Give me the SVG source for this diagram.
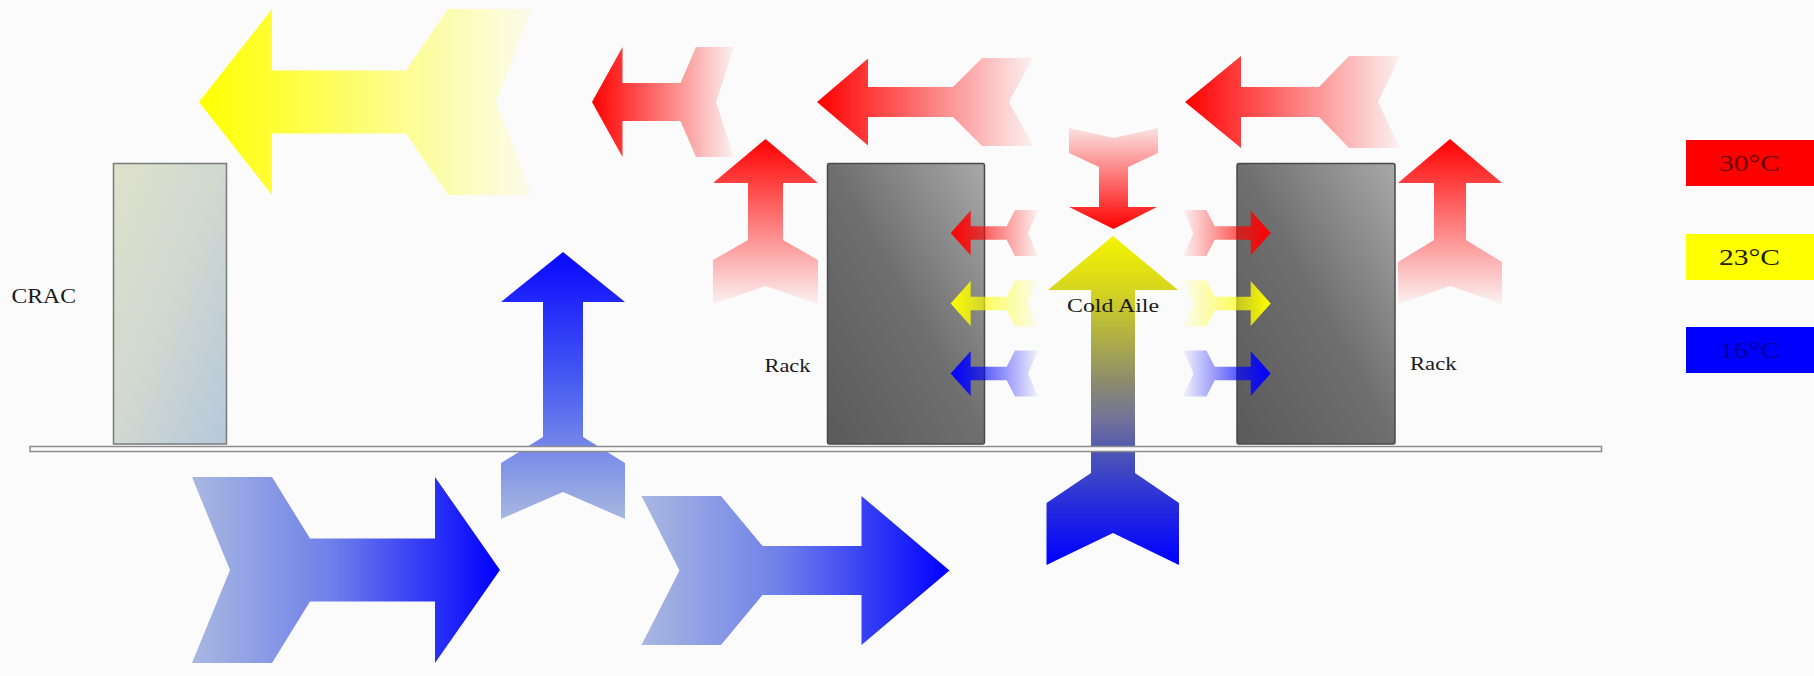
<svg xmlns="http://www.w3.org/2000/svg" width="1814" height="676" viewBox="0 0 1814 676">
<style>
.lbl{font-family:"Liberation Serif","Times New Roman",serif;fill:#1a1a1a}
.leg{font-family:"Liberation Serif","Times New Roman",serif;font-size:23.5px}
.rack{stroke:#4a4a4a;stroke-width:1.5}
</style>
<defs>
<linearGradient id="redL" x1="0" y1="0" x2="1" y2="0"><stop offset="0" stop-color="#ff0000"/><stop offset="1" stop-color="#ff0000" stop-opacity="0.04"/></linearGradient>
<linearGradient id="redR" x1="1" y1="0" x2="0" y2="0"><stop offset="0" stop-color="#ff0000"/><stop offset="1" stop-color="#ff0000" stop-opacity="0.04"/></linearGradient>
<linearGradient id="redU" x1="0" y1="0" x2="0" y2="1"><stop offset="0" stop-color="#ff0000"/><stop offset="1" stop-color="#ff0000" stop-opacity="0.04"/></linearGradient>
<linearGradient id="redD" x1="0" y1="1" x2="0" y2="0"><stop offset="0" stop-color="#ff0000"/><stop offset="1" stop-color="#ff0000" stop-opacity="0.1"/></linearGradient>
<linearGradient id="yelL" x1="0" y1="0" x2="1" y2="0"><stop offset="0" stop-color="#ffff00"/><stop offset="1" stop-color="#ffff00" stop-opacity="0.06"/></linearGradient>
<linearGradient id="yelR" x1="1" y1="0" x2="0" y2="0"><stop offset="0" stop-color="#ffff00"/><stop offset="1" stop-color="#ffff00" stop-opacity="0.06"/></linearGradient>
<linearGradient id="bluL" x1="0" y1="0" x2="1" y2="0"><stop offset="0" stop-color="#0000ff"/><stop offset="1" stop-color="#0000ff" stop-opacity="0.04"/></linearGradient>
<linearGradient id="bluR" x1="1" y1="0" x2="0" y2="0"><stop offset="0" stop-color="#0000ff"/><stop offset="1" stop-color="#0000ff" stop-opacity="0.04"/></linearGradient>
<linearGradient id="bigR" x1="0" y1="0" x2="1" y2="0"><stop offset="0" stop-color="#a9b8e0"/><stop offset="0.45" stop-color="#6f80ea"/><stop offset="1" stop-color="#0000ff"/></linearGradient>
<linearGradient id="bigU" x1="0" y1="0" x2="0" y2="1"><stop offset="0" stop-color="#0808ff"/><stop offset="0.5" stop-color="#4a5ef0"/><stop offset="1" stop-color="#a8b8e0"/></linearGradient>
<linearGradient id="cold" x1="0" y1="0" x2="0" y2="1">
<stop offset="0" stop-color="#f4f400"/><stop offset="0.16" stop-color="#d6d61e"/><stop offset="0.29" stop-color="#b4b440"/>
<stop offset="0.44" stop-color="#8c8c6c"/><stop offset="0.56" stop-color="#72729a"/><stop offset="0.65" stop-color="#5058b2"/>
<stop offset="0.8" stop-color="#2a30da"/><stop offset="1" stop-color="#0000ff"/></linearGradient>
<linearGradient id="rackG" x1="1" y1="0" x2="0" y2="1"><stop offset="0" stop-color="#a8a8a8"/><stop offset="0.5" stop-color="#6e6e6e"/><stop offset="1" stop-color="#5a5a5a"/></linearGradient>
<linearGradient id="cracG" x1="0" y1="0" x2="1" y2="1"><stop offset="0" stop-color="#dfe1cb"/><stop offset="0.5" stop-color="#d0d8d0"/><stop offset="1" stop-color="#b6c8dc"/></linearGradient>
</defs>
<rect x="0" y="0" width="1814" height="676" fill="#fbfbfb"/>

<g id="crac">
<rect x="113.5" y="163.5" width="113" height="280.5" fill="url(#cracG)" stroke="#7a7a7a" stroke-width="1.5"/>
<text class="lbl" x="11.5" y="303" font-size="20" textLength="64.5" lengthAdjust="spacingAndGlyphs">CRAC</text>
</g>
<g id="rack-left">
<rect class="rack" x="827.5" y="163.5" width="157" height="280.5" rx="2" fill="url(#rackG)"/>
<text class="lbl" x="764.5" y="371.5" font-size="19" textLength="46" lengthAdjust="spacingAndGlyphs">Rack</text>
</g>
<g id="rack-right">
<rect class="rack" x="1237" y="163.5" width="158" height="280.5" rx="2" fill="url(#rackG)"/>
<text class="lbl" x="1410" y="370" font-size="19" textLength="46.5" lengthAdjust="spacingAndGlyphs">Rack</text>
</g>

<g id="airflow-arrows">
<polygon fill="url(#yelL)" points="199,102 272,9 272,70.5 406,70.5 448,9 532,9 496,102 532,195 448,195 406,133.5 272,133.5 272,195"/>
<polygon fill="url(#redL)" points="592,102 622.5,47 622.5,83 680.5,83 696,47 734,47 716,102 734,157 696,157 680.5,121 622.5,121 622.5,157"/>
<polygon fill="url(#redL)" points="817,102 868,58.5 868,87 953,87 982,58 1033,58 1009,102 1033,146 982,146 953,117 868,117 868,145.5"/>
<polygon fill="url(#redL)" points="1185,102 1241,56 1241,87 1319,87 1349,56 1400,56 1378,102 1400,148 1349,148 1319,117 1241,117 1241,148"/>
<polygon fill="url(#redU)" points="765.5,139 818,183 783,183 783,240 818,260 818,304 765.5,286 713,304 713,260 748,240 748,183 713,183"/>
<polygon fill="url(#redU)" points="1450,139 1502,183 1466,183 1466,240 1502,262 1502,304 1450,286 1398,304 1398,262 1434,240 1434,183 1398,183"/>
<polygon fill="url(#redD)" points="1113.5,229 1157,207 1128,207 1128,167 1158,153 1158,128 1113.5,138 1069,128 1069,153 1099,167 1099,207 1069,207"/>
<polygon fill="url(#bigU)" points="563,252 625,302 583,302 583,437 625,463 625,519 563,492 501,519 501,463 543,437 543,302 501,302"/>
<polygon fill="url(#cold)" points="1113,236 1178,290 1135,290 1135,473 1179,503 1179,565 1113,533 1046.5,565 1046.5,503 1091,473 1091,290 1048,290"/>
<polygon fill="url(#bigR)" points="192,477 272,477 310,538.5 435,538.5 435,477 500,570 435,663 435,601.5 310,601.5 272,663 192,663 230,570"/>
<polygon fill="url(#bigR)" points="641.5,496 721,496 762.5,546 861.5,546 861.5,496 949.5,570.5 861.5,645 861.5,595 762.5,595 721,645 641.5,645 679.5,570.5"/>
<polygon fill="url(#redL)" points="950.7,233 970.7,210.5 970.7,226.3 1006.7,226.3 1015,210 1038,210 1028,233 1038,256 1015,256 1006.7,239.7 970.7,239.7 970.7,255.5"/>
<polygon fill="url(#yelL)" points="950.7,303.5 970.7,281 970.7,296.8 1006.7,296.8 1015,280.5 1038,280.5 1028,303.5 1038,326.5 1015,326.5 1006.7,310.2 970.7,310.2 970.7,326"/>
<polygon fill="url(#bluL)" points="950.7,373.5 970.7,351 970.7,366.8 1006.7,366.8 1015,350.5 1038,350.5 1028,373.5 1038,396.5 1015,396.5 1006.7,380.2 970.7,380.2 970.7,396"/>
<polygon fill="url(#redR)" points="1270.7,233 1250.7,210.5 1250.7,226.3 1214.7,226.3 1206.4,210 1183.4,210 1193.4,233 1183.4,256 1206.4,256 1214.7,239.7 1250.7,239.7 1250.7,255.5"/>
<polygon fill="url(#yelR)" points="1270.7,303.5 1250.7,281 1250.7,296.8 1214.7,296.8 1206.4,280.5 1183.4,280.5 1193.4,303.5 1183.4,326.5 1206.4,326.5 1214.7,310.2 1250.7,310.2 1250.7,326"/>
<polygon fill="url(#bluR)" points="1270.7,373.5 1250.7,351 1250.7,366.8 1214.7,366.8 1206.4,350.5 1183.4,350.5 1193.4,373.5 1183.4,396.5 1206.4,396.5 1214.7,380.2 1250.7,380.2 1250.7,396"/>
</g>

<g id="cold-aisle-label">
<text class="lbl" x="1067" y="311.5" font-size="19" textLength="92" lengthAdjust="spacingAndGlyphs">Cold Aile</text>
</g>

<g id="floor">
<rect x="30" y="446.5" width="1571.5" height="5" fill="#fbfbfb" stroke="#8c8c8c" stroke-width="1.5"/>
</g>

<g id="legend-30">
<rect x="1686" y="140" width="128" height="46" fill="#ff0000"/>
<text class="leg" x="1719" y="170.5" fill="#6a0000" textLength="61" lengthAdjust="spacingAndGlyphs">30°C</text>
</g>
<g id="legend-23">
<rect x="1686" y="234" width="128" height="46" fill="#ffff00"/>
<text class="leg" x="1719" y="265" fill="#1c1c00" textLength="61" lengthAdjust="spacingAndGlyphs">23°C</text>
</g>
<g id="legend-16">
<rect x="1686" y="327" width="128" height="46" fill="#0000ff"/>
<text class="leg" x="1719" y="358" fill="#0000a0" textLength="61" lengthAdjust="spacingAndGlyphs">16°C</text>
</g>
</svg>
